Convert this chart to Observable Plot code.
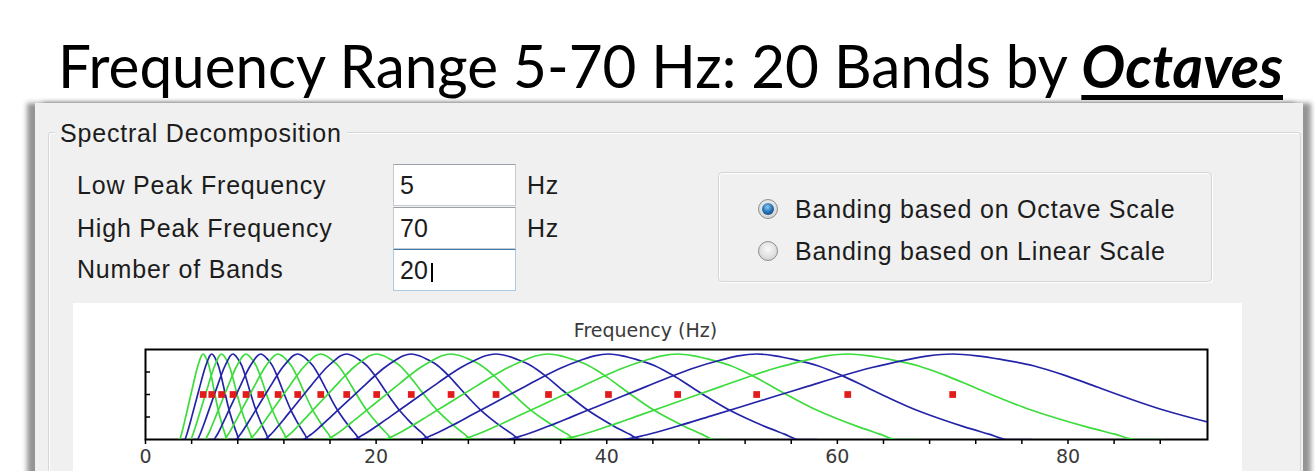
<!DOCTYPE html>
<html><head><meta charset="utf-8">
<script src="https://cdn.jsdelivr.net/npm/d3@7"></script>
<script src="https://cdn.jsdelivr.net/npm/@observablehq/plot@0.6"></script>
<style>
html,body{margin:0;padding:0;background:#fff;}
body{width:1315px;height:471px;overflow:hidden;position:relative;font-family:"Liberation Sans",Arial,sans-serif;}
.abs{position:absolute;}
#title{left:58px;top:35px;font-family:Lato,"Open Sans",sans-serif;font-size:60px;line-height:60px;color:#000;white-space:nowrap;transform-origin:0 0;}
#title b{font-style:italic;text-decoration:underline;text-decoration-thickness:5px;text-underline-offset:7px;}
#dialog{left:35px;top:103px;width:1268px;height:400px;background:#f0f0f0;box-shadow:-8px 0 5px 0 rgba(0,0,0,0.42),8px 0 5px 0 rgba(0,0,0,0.42);}
#group{left:48px;top:132px;width:1251px;height:400px;border:1px solid #d6d6d6;border-radius:3px;box-shadow:inset 1px 1px 0 #fff;}
.lbl{font-size:25px;line-height:28px;color:#1c1c1c;white-space:nowrap;letter-spacing:0.8px;}
#legend{left:55px;top:119px;padding:0 5px;background:#f0f0f0;}
.box{left:393px;width:121px;height:40px;background:#fff;border:1px solid #c7cbd1;border-top-color:#9aa0a8;}
.box span{position:absolute;left:6px;top:6px;font-size:25px;line-height:28px;color:#1c1c1c;}
#radiobox{left:718px;top:172px;width:492px;height:108px;border:1px solid #d5d5d5;border-radius:4px;box-shadow:inset 1px 1px 0 #fff,1px 1px 0 #fff;}
.radio{left:758px;width:18px;height:18px;border-radius:50%;border:1px solid #8c8e90;background:radial-gradient(circle at 50% 40%,#fafafa,#d8d8d8 70%,#c4c4c4);}
.radio .dot{position:absolute;left:3px;top:3px;width:12px;height:12px;border-radius:50%;background:radial-gradient(circle at 45% 35%,#8cc9f2,#2a78b8 45%,#0f3f70 90%);}
#chartbg{left:73px;top:303px;width:1169px;height:200px;background:#fff;}
#chart{left:73px;top:303px;}
</style>
</head><body>
<div id="title" class="abs">Frequency Range 5-70 Hz: 20 Bands by <b>Octaves</b></div>
<div id="dialog" class="abs"></div>
<div id="group" class="abs"></div>
<div id="legend" class="abs lbl">Spectral Decomposition</div>
<div class="abs lbl" style="left:77px;top:171px;">Low Peak Frequency</div>
<div class="abs lbl" style="left:77px;top:214px;">High Peak Frequency</div>
<div class="abs lbl" style="left:77px;top:255px;">Number of Bands</div>
<div class="abs box" style="top:164px;"><span>5</span></div>
<div class="abs box" style="top:207px;"><span>70</span></div>
<div class="abs box" style="top:249px;border-color:#a9cbe6;border-top-color:#3d7bad;"><span>20</span><div style="position:absolute;left:37px;top:13px;width:2px;height:19px;background:#000;"></div></div>
<div class="abs lbl" style="left:527px;top:171px;">Hz</div>
<div class="abs lbl" style="left:527px;top:214px;">Hz</div>
<div id="radiobox" class="abs"></div>
<div class="abs radio" style="top:199px;"><div class="dot"></div></div>
<div class="abs radio" style="top:241px;"></div>
<div class="abs lbl" style="left:795px;top:195px;">Banding based on Octave Scale</div>
<div class="abs lbl" style="left:795px;top:237px;">Banding based on Linear Scale</div>
<div id="chartbg" class="abs"></div>
<div id="chart" class="abs"></div>
<script>
// ---- data ----
// peak (centre) frequency of each of the 20 octave-spaced bands, Hz
const peakHz = [5.0, 5.75, 6.6, 7.59, 8.72, 10.0, 11.5, 13.2, 15.2, 17.45,
                20.05, 23.05, 26.5, 30.4, 34.95, 40.15, 46.15, 53.0, 60.9, 70.0];
const shapeRatio = [0.55, 0.59, 0.62, 0.66, 0.70, 0.74, 0.78, 0.82, 0.86, 0.90, 0.94, 0.97, 1.00,
                    1.03, 1.06, 1.10, 1.14, 1.18, 1.22, 1.26, 1.30, 1.34, 1.38, 1.41, 1.45];
// ... and relative amplitude at that ratio
const shapeGain  = [0.0, 0.0, 0.05, 0.15, 0.26, 0.37, 0.48, 0.59, 0.70, 0.80, 0.88, 0.93, 0.95,
                    0.93, 0.89, 0.82, 0.71, 0.58, 0.45, 0.33, 0.23, 0.14, 0.06, 0.0, 0.0];
// level of the red peak markers
const markerLevel = 0.5;
// axis ticks
const xTicks = [0, 4, 8, 12, 16, 20, 24, 28, 32, 36, 40, 44, 48, 52, 56, 60, 64, 68, 72, 76, 80, 84, 88];
const xTickLabels = [0, 20, 40, 60, 80];
const yTicks = [0.25, 0.5, 0.75];
const xMax = 92.1;
const axisTitle = "Frequency (Hz)";

// ---- build table ----
const GREEN = "#3ddc3d", BLUE = "#2424a8";
const bandRows = [];
peakHz.forEach((p, i) => {
  shapeRatio.forEach((r, j) => {
    bandRows.push({band: i, f: p * r, g: shapeGain[j], color: i % 2 ? BLUE : GREEN});
  });
});
const markers = peakHz.map(p => ({f: p, g: markerLevel}));

const plot = Plot.plot({
  width: 1168,
  height: 168,
  marginLeft: 72,
  marginRight: 34,
  marginTop: 46,
  marginBottom: 32,
  style: {background: "transparent", fontFamily: "'DejaVu Sans', sans-serif", overflow: "visible"},
  x: {domain: [0, xMax], label: null},
  y: {domain: [0, 1], label: null},
  color: {type: "identity"},
  marks: [
    Plot.frame({stroke: "#000", strokeWidth: 2}),
    Plot.axisY(yTicks, {tickSize: -5, tickFormat: () => "", label: null, stroke: "#000", strokeWidth: 1.5}),
    Plot.axisX(xTicks, {tickSize: 5, tickFormat: () => "", label: null, stroke: "#000", strokeWidth: 1.5}),
    Plot.axisX(xTickLabels, {tickSize: 0, tickPadding: 10, fontSize: 19, fill: "#3a3a3a", label: null, style: "letter-spacing:1.5px"}),
    Plot.line(bandRows, {x: "f", y: "g", z: "band", stroke: "color", strokeWidth: 1.7, curve: "monotone-x", clip: true}),
    Plot.dot(markers, {x: "f", y: "g", symbol: "square", r: 3.8, fill: "#e31b1b", stroke: null}),
    Plot.text([axisTitle], {frameAnchor: "top", dx: -31, dy: -26, fontSize: 19, fill: "#3a3a3a", style: "letter-spacing:2px"})
  ]
});
document.getElementById("chart").appendChild(plot);

// fit title to its width in the picture
const t = document.getElementById("title");
const w = t.getBoundingClientRect().width;
t.style.transform = `scaleX(${1225 / w})`;
</script>
</body></html>
